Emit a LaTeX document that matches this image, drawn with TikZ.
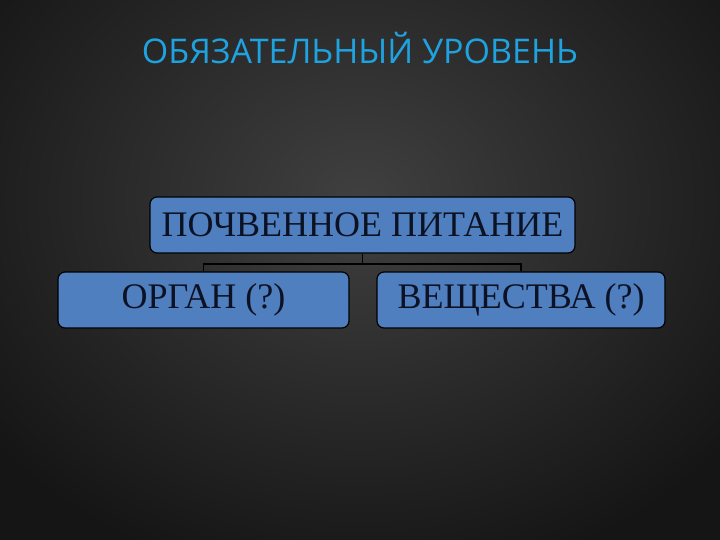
\documentclass[tikz,border=0pt]{standalone}
\usepackage{fontspec}
\setmainfont{Liberation Serif}
\newfontfamily\titlefont{Open Sans}
\begin{document}
\begin{tikzpicture}[x=1pt,y=-1pt,
  box/.style={draw=black,line width=1.2pt,fill=boxblue,rounded corners=7pt,inner sep=0pt,font=\fontsize{36}{36}\selectfont,text=textdark},
  link/.style={draw=black,line width=1.8pt}]
\definecolor{boxblue}{HTML}{4F7FBF}
\definecolor{textdark}{HTML}{0C1224}
\definecolor{titleblue}{HTML}{1EA2E0}
\definecolor{bgmid}{HTML}{404040}
\definecolor{bgedge}{HTML}{151515}
\useasboundingbox (0,0) rectangle (720,540);
\fill[bgedge] (0,0) rectangle (720,540);
\shade[inner color=bgmid,outer color=bgedge] (360,200) ellipse (470 and 390);
\node[font=\titlefont\fontsize{34}{34}\selectfont,text=titleblue] (title) at (360,48) {ОБЯЗАТЕЛЬНЫЙ УРОВЕНЬ};
\node[box,minimum width=425pt,minimum height=56pt] (top) at (362.5,225) {ПОЧВЕННОЕ ПИТАНИЕ};
\node[box,minimum width=291pt,minimum height=56pt] (left) at (203.5,300) {ОРГАН (?)};
\node[box,minimum width=288pt,minimum height=56pt] (right) at (521,300) {ВЕЩЕСТВА (?)};
\coordinate (mid) at (362.5,264);
\draw[link] (top.south) -- (mid);
\draw[link] (left.north) |- (mid) -| (right.north);
\end{tikzpicture}
\end{document}
